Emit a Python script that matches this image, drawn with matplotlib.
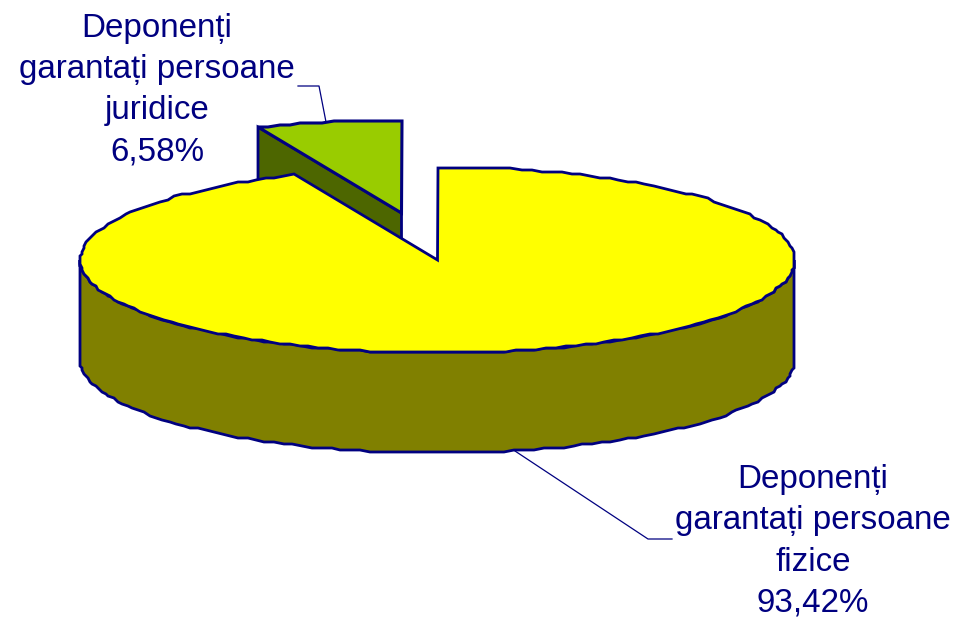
import numpy as np
import matplotlib
matplotlib.use("Agg")
import matplotlib.pyplot as plt

# Cote din grafic
etichete = ["Deponenți\ngarantați persoane\nfizice\n93,42%",
            "Deponenți\ngarantați persoane\njuridice\n6,58%"]
procente = [93.42, 6.58]

plt.rcParams['font.family'] = ['Liberation Sans', 'DejaVu Sans']

cx, cy = 437.5, 260
ra, rb = 357.2, 93
adancime = 100
dx, dy = -36, -47  # felia scoasa in afara
albastru = "#000080"


def arc(start, stop, n):
    # unghiuri in grade, de la verticala, in sensul acelor de ceas
    # coordonatele se rotunjesc la 2 px, ca linia zimtata din original
    t = np.radians(np.linspace(start, stop, n))
    x = cx + ra * np.sin(t)
    y = cy - rb * np.cos(t)
    return np.round(x / 2) * 2, np.round(y / 2) * 2


fig = plt.figure(figsize=(9.56, 6.18), dpi=100)
ax = fig.add_axes([0, 0, 1, 1])
ax.set_xlim(0, 956)
ax.set_ylim(618, 0)
ax.axis("off")

unghi_mic = procente[1] / 100 * 360

# felia verde: peretele interior, apoi fata
xm, ym = arc(-unghi_mic, 0, 14)
xm = xm + dx
ym = ym + dy
ax.fill([xm[0], cx + dx, cx + dx, xm[0]],
        [ym[0], cy + dy, cy + dy + adancime, ym[0] + adancime],
        facecolor="#4D6600", edgecolor=albastru, lw=2, zorder=1)
ax.fill(np.r_[cx + dx, xm], np.r_[cy + dy, ym],
        facecolor="#99CC00", edgecolor=albastru, lw=2.2, zorder=2, joinstyle="miter")

# felia galbena: peretele exterior, apoi fata
xg, yg = arc(0, 360 - unghi_mic, 200)
xv, yv = arc(90, 270, 110)
ax.fill(np.r_[xv, xv[::-1]], np.r_[yv, yv[::-1] + adancime],
        facecolor="#808000", edgecolor=albastru, lw=2, zorder=3)
ax.fill(np.r_[cx, xg], np.r_[cy, yg],
        facecolor="#FFFF00", edgecolor=albastru, lw=2, zorder=4, joinstyle="miter")

# linii de legatura
ax.plot([515, 648, 672], [451, 539, 539], color=albastru, lw=0.9, zorder=5)
ax.plot([298, 319, 326], [86, 86, 122], color=albastru, lw=0.9, zorder=5)

ax.text(813, 541.5, etichete[0], color=albastru, fontsize=23.9, ha="center", va="center",
        linespacing=1.43)
ax.text(157, 90, etichete[1], color=albastru, fontsize=23.9, ha="center", va="center",
        linespacing=1.43)

fig.savefig("out.png", dpi=100)
